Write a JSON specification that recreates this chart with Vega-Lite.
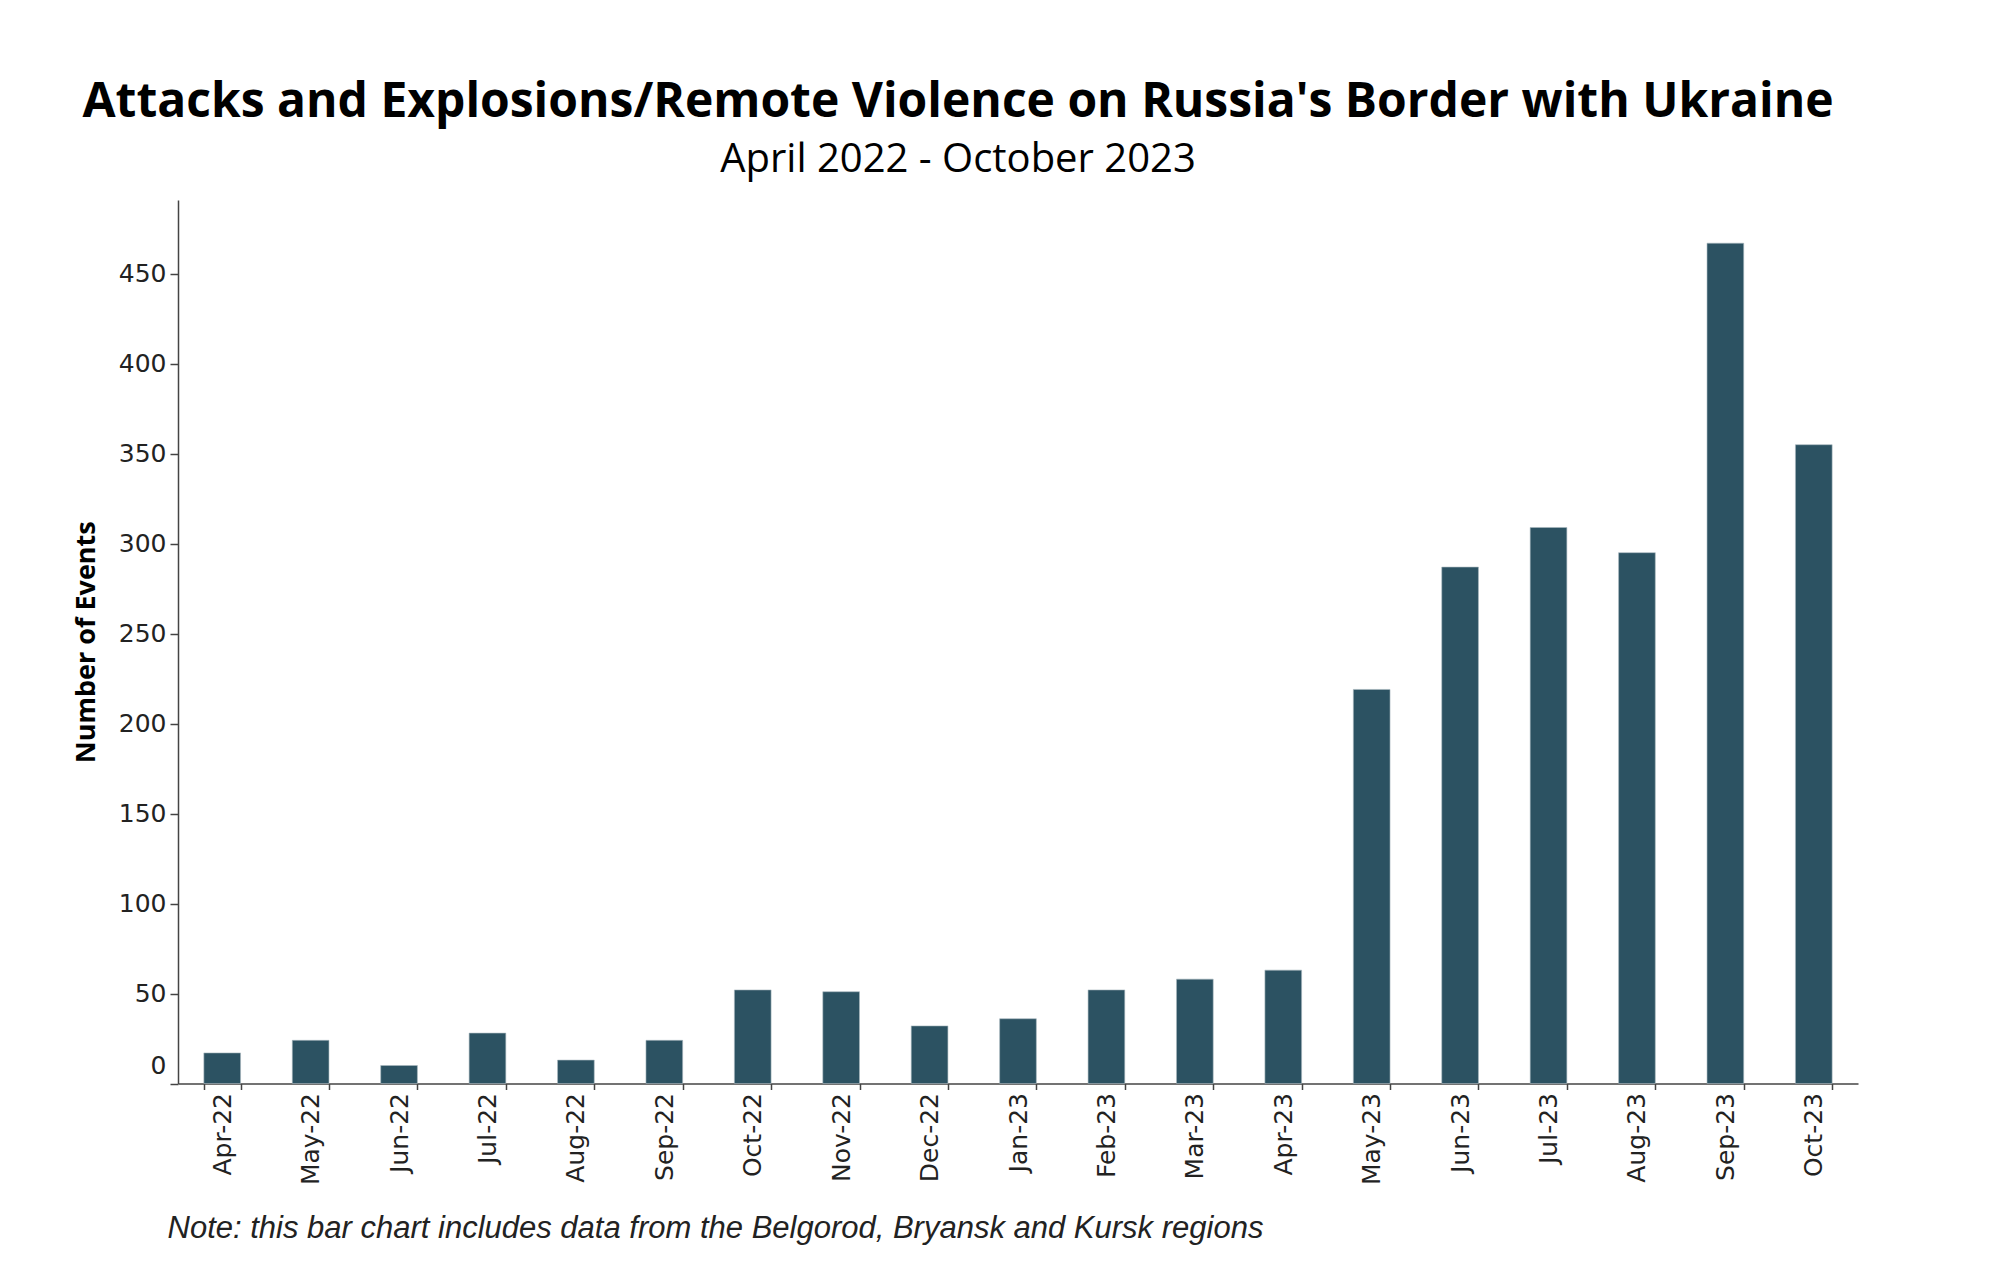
{
  "$schema": "https://vega.github.io/schema/vega-lite/v6.json",
  "autosize": "none",
  "width": 1680,
  "height": 883.5,
  "padding": {"left": 178, "top": 200, "right": 141, "bottom": 197},
  "background": "white",
  "title": {
    "text": "Attacks and Explosions/Remote Violence on Russia's Border with Ukraine",
    "subtitle": "April 2022 - October 2023",
    "anchor": "middle",
    "frame": "group",
    "dx": -60,
    "font": "Open Sans",
    "fontSize": 48,
    "fontWeight": "bold",
    "color": "#000000",
    "subtitleFont": "Open Sans",
    "subtitleFontSize": 40,
    "subtitleColor": "#000000",
    "subtitlePadding": 13,
    "offset": 20
  },
  "data": {
    "values": [
      {"month": "Apr-22", "events": 17},
      {"month": "May-22", "events": 24},
      {"month": "Jun-22", "events": 10},
      {"month": "Jul-22", "events": 28},
      {"month": "Aug-22", "events": 13},
      {"month": "Sep-22", "events": 24},
      {"month": "Oct-22", "events": 52},
      {"month": "Nov-22", "events": 51},
      {"month": "Dec-22", "events": 32},
      {"month": "Jan-23", "events": 36},
      {"month": "Feb-23", "events": 52},
      {"month": "Mar-23", "events": 58},
      {"month": "Apr-23", "events": 63},
      {"month": "May-23", "events": 219},
      {"month": "Jun-23", "events": 287},
      {"month": "Jul-23", "events": 309},
      {"month": "Aug-23", "events": 295},
      {"month": "Sep-23", "events": 467},
      {"month": "Oct-23", "events": 355}
    ]
  },
  "mark": {"type": "bar", "color": "#2C5262", "stroke": "#a9b9c0", "strokeWidth": 0.6},
  "encoding": {
    "x": {
      "field": "month",
      "type": "ordinal",
      "sort": null,
      "scale": {"paddingInner": 0.585, "paddingOuter": 0.2925},
      "axis": {
        "title": "Note: this bar chart includes data from the Belgorod, Bryansk and Kursk regions",
        "titleFont": "Liberation Sans",
        "titleFontStyle": "italic",
        "titleFontWeight": "normal",
        "titleFontSize": 31,
        "titleColor": "#222222",
        "titleAnchor": "start",
        "titleAlign": "left",
        "titleX": -11,
        "titlePadding": 29,
        "labelAngle": -90,
        "labelFont": "DejaVu Sans",
        "labelFontSize": 25,
        "labelColor": "#222222",
        "labelPadding": 3,
        "tickBand": "extent",
        "tickSize": 6,
        "tickColor": "#444444",
        "tickWidth": 1.5,
        "domainColor": "#444444",
        "domainWidth": 1.5,
        "grid": false
      }
    },
    "y": {
      "field": "events",
      "type": "quantitative",
      "scale": {"domain": [0, 491], "nice": false},
      "axis": {
        "title": "Number of Events",
        "titleFont": "Open Sans",
        "titleFontSize": 27,
        "titleFontWeight": "bold",
        "titleColor": "#000000",
        "titlePadding": 18,
        "values": [0, 50, 100, 150, 200, 250, 300, 350, 400, 450],
        "labelFont": "DejaVu Sans",
        "labelFontSize": 25,
        "labelColor": "#222222",
        "labelPadding": 4,
        "labelOffset": {"condition": {"test": "datum.value === 0", "value": -18}, "value": 0},
        "tickSize": 8,
        "tickColor": "#444444",
        "tickWidth": 1.5,
        "domainColor": "#444444",
        "domainWidth": 1.5,
        "grid": false
      }
    }
  },
  "config": {"view": {"stroke": null}}
}
